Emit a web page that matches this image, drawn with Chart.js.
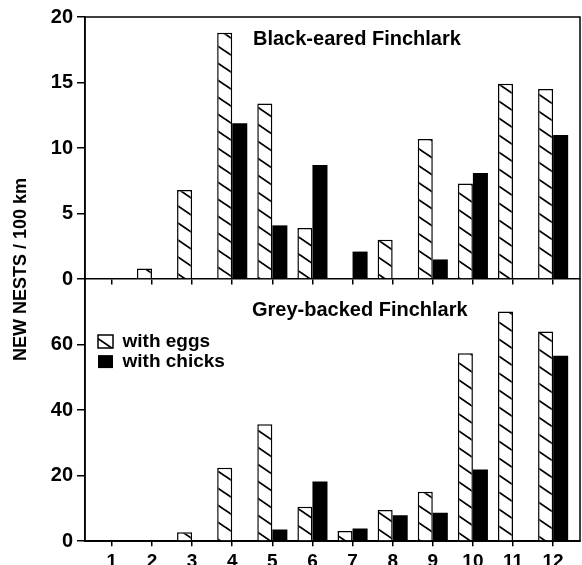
<!DOCTYPE html>
<html>
<head>
<meta charset="utf-8">
<script src="https://cdn.jsdelivr.net/npm/chart.js@4/dist/chart.umd.min.js"></script>
<style>
html,body{margin:0;padding:0;background:#fff;width:582px;height:565px;overflow:hidden}
#wrap{position:absolute;left:0;top:0;width:582px;height:577px}
</style>
</head>
<body>
<div id="wrap"><canvas id="c" width="582" height="577"></canvas></div>
<script>
// ---- data ----
const months = [1,2,3,4,5,6,7,8,9,10,11,12];
const blackEaredEggs   = [0, 0.8, 6.8, 18.8, 13.4, 3.9, 0, 3.0, 10.7, 7.3, 14.9, 14.5];
const blackEaredChicks = [0, 0, 0, 11.9, 4.1, 8.7, 2.1, 0, 1.5, 8.1, 0, 11.0];
const greyBackedEggs   = [0, 0, 2.7, 22.4, 35.7, 10.5, 3.1, 9.5, 15.1, 57.4, 70.1, 64.0];
const greyBackedChicks = [0, 0, 0, 0, 3.6, 18.2, 3.9, 7.9, 8.7, 21.9, 0, 56.6];
const topTicks = [0, 5, 10, 15, 20];
const bottomTicks = [0, 20, 40, 60];
const panelTitles = ['Black-eared Finchlark', 'Grey-backed Finchlark'];
const seriesLabels = ['with eggs', 'with chicks'];
const yTitle = 'NEW NESTS / 100 km';

const FONT = "'Liberation Sans', Arial, Helvetica, sans-serif";

function makeHatch() {
  const W = 25, H = 17;
  const c = document.createElement('canvas');
  c.width = W; c.height = H;
  const g = c.getContext('2d');
  g.fillStyle = '#fff'; g.fillRect(0, 0, W, H);
  g.strokeStyle = '#000'; g.lineWidth = 1.8;
  for (let k = -1; k <= 1; k++) {
    g.beginPath();
    g.moveTo(-W, k * H - H);
    g.lineTo(2 * W, k * H + 2 * H);
    g.stroke();
  }
  return g.createPattern(c, 'repeat');
}
const hatch = makeHatch();

const pts = arr => months.map((m, i) => ({x: m, y: arr[i]}));

const eggStyle = {backgroundColor: hatch, borderColor: '#000', borderWidth: 1.5, stack: 'eggs'};
const chickStyle = {backgroundColor: '#000', borderColor: '#000', borderWidth: 0, stack: 'chicks'};

const panelPlugin = {
  id: 'panels',
  afterLayout(chart) {
    const lg = chart.legend;
    const ca = chart.chartArea;
    const yb = chart.scales.yBot;
    if (lg) {
      const pad = lg.options.labels.padding;
      lg.left = ca.left + 13 - pad;
      lg.right = lg.left + 220;
      lg.top = yb.top + 53 - pad;
      lg.bottom = lg.top + 120;
    }
  },
  afterDatasetsDraw(chart) {
    const ctx = chart.ctx;
    const ca = chart.chartArea;
    const yt = chart.scales.yTop, yb = chart.scales.yBot;
    ctx.save();
    ctx.strokeStyle = '#000';
    ctx.lineWidth = 1.5;
    ctx.strokeRect(ca.left, ca.top, ca.right - ca.left, ca.bottom - ca.top);
    ctx.fillStyle = '#000';
    ctx.font = 'bold 20px ' + FONT;
    ctx.textAlign = 'left';
    ctx.textBaseline = 'middle';
    ctx.fillText(panelTitles[0], ca.left + 168, yt.top + 22);
    ctx.fillText(panelTitles[1], ca.left + 167, yb.top + 31);
    ctx.restore();
  }
};

const tickFont = {family: FONT, size: 20, weight: 'bold'};

new Chart(document.getElementById('c'), {
  type: 'bar',
  data: {
    datasets: [
      Object.assign({label: seriesLabels[0], data: pts(blackEaredEggs), yAxisID: 'yTop'}, eggStyle),
      Object.assign({label: seriesLabels[1], data: pts(blackEaredChicks), yAxisID: 'yTop'}, chickStyle),
      Object.assign({label: seriesLabels[0], data: pts(greyBackedEggs), yAxisID: 'yBot'}, eggStyle),
      Object.assign({label: seriesLabels[1], data: pts(greyBackedChicks), yAxisID: 'yBot'}, chickStyle)
    ]
  },
  plugins: [panelPlugin],
  options: {
    responsive: false,
    devicePixelRatio: 1,
    animation: false,
    events: [],
    layout: {padding: {left: 6, top: 17, right: 2, bottom: 0}},
    datasets: {bar: {categoryPercentage: 0.75, barPercentage: 1.0}},
    scales: {
      x: {
        type: 'linear',
        position: 'bottom',
        offset: false,
        min: 0.33, max: 12.67,
        afterBuildTicks: s => { s.ticks = months.map(v => ({value: v})); },
        grid: {drawOnChartArea: false, offset: false, tickLength: 5, color: '#000', lineWidth: 1.5},
        border: {color: '#000', width: 1.5},
        ticks: {color: '#000', font: {family: FONT, size: 19, weight: 'bold'}, padding: 4, maxRotation: 0, autoSkip: false}
      },
      x2: {
        type: 'linear',
        position: {yTop: 0},
        offset: false,
        min: 0.33, max: 12.67,
        afterBuildTicks: s => { s.ticks = months.map(v => ({value: v})); },
        grid: {drawOnChartArea: false, offset: false, tickLength: 5, color: '#000', lineWidth: 1.5},
        border: {color: '#000', width: 1.5},
        ticks: {display: false}
      },
      yTitle: {
        type: 'linear',
        position: 'left',
        stack: 'titleStack',
        stackWeight: 0.963,
        weight: 11,
        grid: {display: false},
        border: {display: false},
        ticks: {display: false},
        title: {display: true, text: yTitle, color: '#000', font: {family: FONT, size: 18, weight: 'bold'}, padding: {top: 4, bottom: 4}},
        afterFit: s => { s.width = 29; }
      },
      yPad: {
        type: 'linear',
        position: 'left',
        stack: 'titleStack',
        stackWeight: 0.037,
        weight: 10,
        display: true,
        grid: {display: false},
        border: {display: false},
        ticks: {display: false},
        afterFit: s => { s.width = 29; }
      },
      yTop: {
        type: 'linear',
        position: 'left',
        stack: 'panels',
        stackWeight: 1,
        weight: 2,
        stacked: false,
        min: 0, max: 20,
        afterBuildTicks: s => { s.ticks = topTicks.map(v => ({value: v})); },
        grid: {drawOnChartArea: false, tickLength: 8, color: '#000', lineWidth: 1.5},
        border: {color: '#000', width: 1.5},
        ticks: {color: '#000', font: tickFont, padding: 4},
        afterFit: s => { s.width = 50; }
      },
      yBot: {
        type: 'linear',
        position: 'left',
        stack: 'panels',
        stackWeight: 1,
        weight: 1,
        stacked: false,
        min: 0, max: 80,
        afterBuildTicks: s => { s.ticks = bottomTicks.map(v => ({value: v})); },
        grid: {drawOnChartArea: false, tickLength: 8, color: '#000', lineWidth: 1.5},
        border: {color: '#000', width: 1.5},
        ticks: {color: '#000', font: tickFont, padding: 4},
        afterFit: s => { s.width = 50; }
      }
    },
    plugins: {
      tooltip: {enabled: false},
      title: {display: false},
      legend: {
        display: true,
        position: 'chartArea',
        fullSize: false,
        align: 'start',
        labels: {
          color: '#000',
          font: {family: FONT, size: 19, weight: 'bold'},
          boxWidth: 15,
          boxHeight: 13,
          padding: 1,
          filter: item => item.datasetIndex >= 2
        }
      }
    }
  }
});
</script>
</body>
</html>
